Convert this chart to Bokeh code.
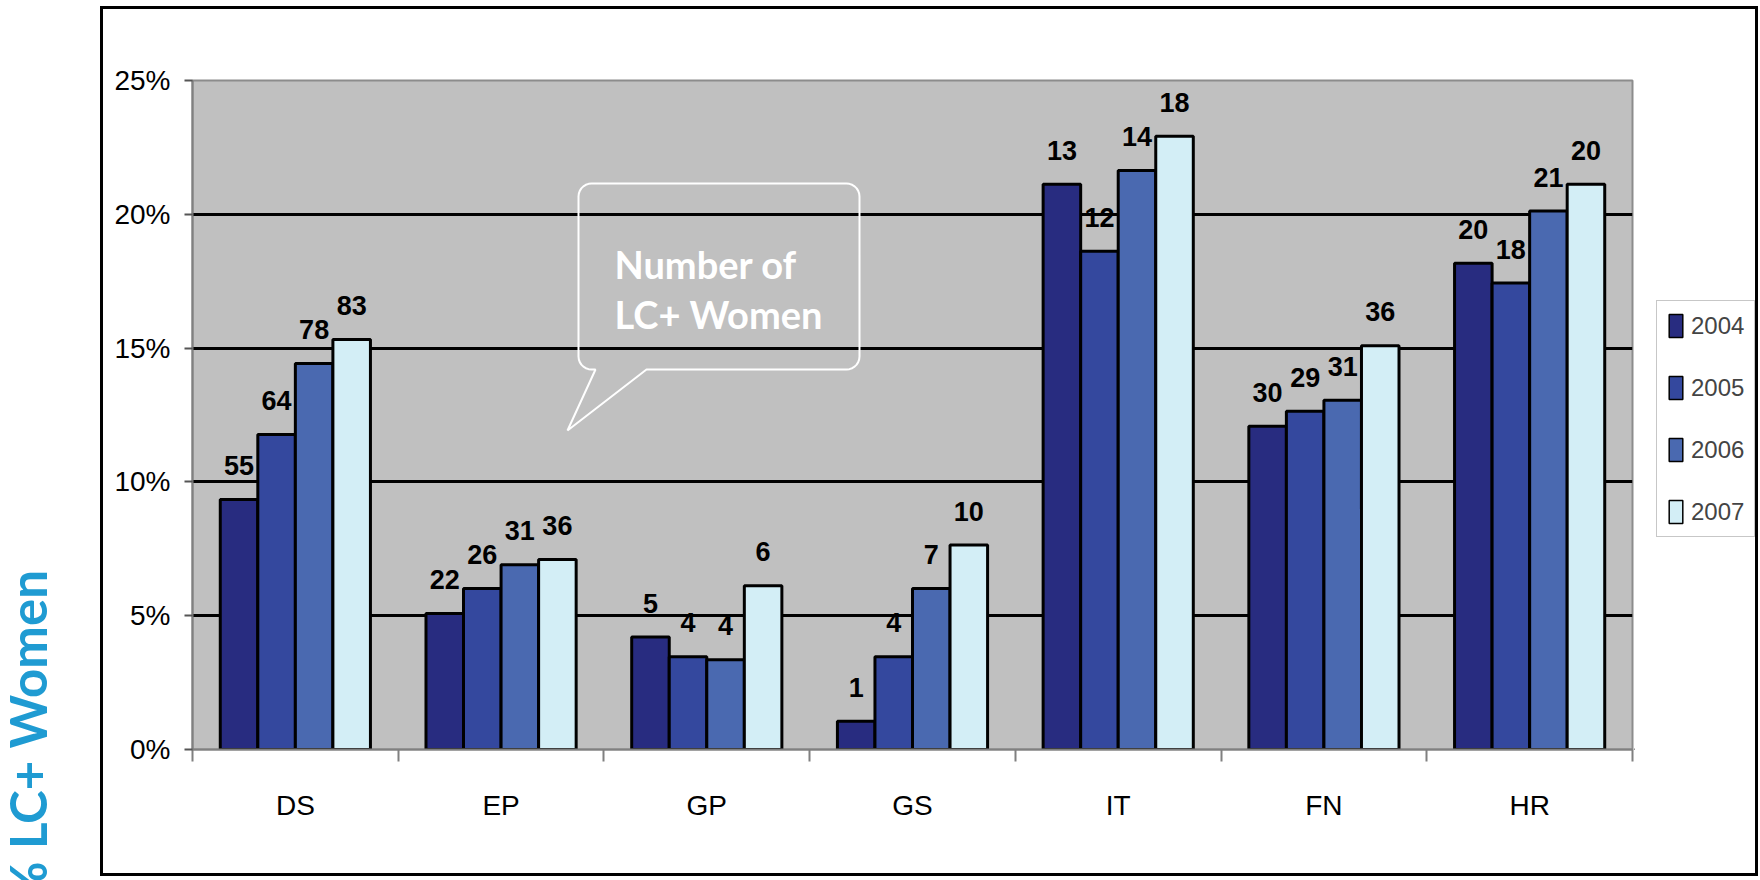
import numpy as np
from bokeh.plotting import figure
from bokeh.layouts import row, column
from bokeh.models import (Range1d, FixedTicker, LinearAxis, Legend, LegendItem,
                          Label, PolyAnnotation, ColumnDataSource)
from bokeh.core.properties import value
from bokeh.embed import file_html
from bokeh.resources import INLINE

# ---------------- data ----------------
categories = ["DS", "EP", "GP", "GS", "IT", "FN", "HR"]
years = ["2004", "2005", "2006", "2007"]
pct_2004 = [9.34, 5.08, 4.20, 1.06, 21.12, 12.08, 18.17]
pct_2005 = [11.77, 6.02, 3.47, 3.47, 18.62, 12.64, 17.43]
pct_2006 = [14.42, 6.90, 3.35, 6.02, 21.64, 13.05, 20.12]
pct_2007 = [15.32, 7.10, 6.12, 7.64, 22.92, 15.09, 21.12]
count_2004 = [55, 22, 5, 1, 13, 30, 20]
count_2005 = [64, 26, 4, 4, 12, 29, 18]
count_2006 = [78, 31, 4, 7, 14, 31, 21]
count_2007 = [83, 36, 6, 10, 18, 36, 20]
y_ticks = [0, 5, 10, 15, 20, 25]
y_tick_labels = ["0%", "5%", "10%", "15%", "20%", "25%"]
y_title = "% LC+ Women"
callout_lines = ["Number of", "LC+ Women"]

pcts = [pct_2004, pct_2005, pct_2006, pct_2007]
counts = [count_2004, count_2005, count_2006, count_2007]
colors = ["#282C80", "#34489E", "#4A69B0", "#D3EEF6"]

# ---------------- layout constants (canvas pixels) ----------------
FONT = "Liberation Sans"
H = 880
TW = 100                       # title strip width
BOX_L, BOX_R = 100, 1758       # bordered box
BOX_T, BOX_B = 6, 876
LINE = 3                       # border thickness
FL, FR, FT, FB = 192, 1632, 80, 749   # frame edges on the full canvas
IN_T, IN_B = BOX_T + LINE, BOX_B - LINE
IN_H = IN_B - IN_T
P_L = BOX_L + LINE
PW = FR + 2 - P_L
LG_L = P_L + PW
LW = BOX_R - LINE - LG_L
BAR_W = 0.1825

def blank(width, height, fill="white"):
    f = figure(width=width, height=height, output_backend="svg", toolbar_location=None,
               x_range=Range1d(0, width), y_range=Range1d(0, height),
               x_axis_type=None, y_axis_type=None, min_border=0,
               min_border_left=0, min_border_right=0, min_border_top=0, min_border_bottom=0)
    f.outline_line_color = None
    f.grid.visible = False
    f.background_fill_color = fill
    f.border_fill_color = fill
    return f

# ---------------- title strip ----------------
t = blank(TW, H)
t.add_layout(Label(x=27, y=H - 736, x_units="screen", y_units="screen",
                   text=y_title, angle=np.pi / 2, text_align="center",
                   text_baseline="alphabetic", text_font="Lato",
                   text_font_style="bold", text_font_size="51px",
                   text_color="#1F9BD2"))

# ---------------- main chart ----------------
p = figure(width=PW, height=IN_H, output_backend="svg", toolbar_location=None,
           x_range=Range1d(0, len(categories)), y_range=Range1d(0, 25),
           min_border_left=FL - P_L, min_border_right=2,
           min_border_top=FT - IN_T, min_border_bottom=IN_B - FB)
p.background_fill_color = "#C0C0C0"
p.border_fill_color = "white"
p.outline_line_color = "#8C8C8C"
p.outline_line_width = 2

p.xgrid.visible = False
p.ygrid.ticker = FixedTicker(ticks=y_ticks)
p.ygrid.grid_line_color = "black"
p.ygrid.grid_line_width = 3

p.yaxis.ticker = FixedTicker(ticks=y_ticks)
p.yaxis.major_label_overrides = {t_: l for t_, l in zip(y_ticks, y_tick_labels)}
p.yaxis.major_label_text_font = FONT
p.yaxis.major_label_text_font_size = "28px"
p.yaxis.major_label_text_color = "black"
p.yaxis.axis_line_color = "#808080"
p.yaxis.axis_line_width = 2
p.yaxis.major_tick_line_color = "#555555"
p.yaxis.major_tick_line_width = 2
p.yaxis.major_tick_out = 8
p.yaxis.major_tick_in = 0
p.yaxis.minor_tick_line_color = None
p.yaxis.major_label_standoff = 14

p.xaxis.ticker = FixedTicker(ticks=list(range(len(categories) + 1)))
p.xaxis.major_label_overrides = {i: "" for i in range(len(categories) + 1)}
p.xaxis.axis_line_color = "#808080"
p.xaxis.axis_line_width = 2
p.xaxis.major_tick_line_color = "#808080"
p.xaxis.major_tick_line_width = 2
p.xaxis.major_tick_out = 12
p.xaxis.major_tick_in = 0
p.xaxis.minor_tick_line_color = None
p.xaxis.major_label_text_font_size = "1px"

centers = [i + 0.5 for i in range(len(categories))]
xlab = LinearAxis(ticker=FixedTicker(ticks=centers),
                  major_label_overrides={c: n for c, n in zip(centers, categories)})
xlab.axis_line_color = None
xlab.major_tick_line_color = None
xlab.minor_tick_line_color = None
xlab.major_label_text_font = FONT
xlab.major_label_text_font_size = "28px"
xlab.major_label_text_color = "black"
xlab.major_label_standoff = 22
p.add_layout(xlab, "below")

for j, (vals, cnts, col) in enumerate(zip(pcts, counts, colors)):
    xs = [i + 0.5 + (j - 1.5) * BAR_W for i in range(len(categories))]
    src = ColumnDataSource(dict(x=xs, top=vals, txt=[str(c) for c in cnts]))
    p.vbar(x="x", top="top", bottom=0, width=BAR_W, source=src,
           fill_color=col, line_color="black", line_width=3)
    p.text(x="x", y="top", text="txt", source=src, y_offset=-34,
           text_align="center", text_baseline="alphabetic",
           text_font=value(FONT), text_font_style="bold",
           text_font_size="27px", text_color="black")

# callout bubble
def arc(cx, cy, r, a0, a1, n=8):
    tt = np.linspace(a0, a1, n)
    return list(cx + r * np.cos(tt)), list(cy + r * np.sin(tt))

L_, R_, T_, B_, rad = 578, 859, 183, 369, 13
px, py = [], []
for (cx, cy, a0, a1) in [(R_ - rad, T_ + rad, -np.pi / 2, 0),
                         (R_ - rad, B_ - rad, 0, np.pi / 2)]:
    ax, ay = arc(cx, cy, rad, a0, a1)
    px += ax; py += ay
px += [646, 567, 595]; py += [B_, 430, B_]
for (cx, cy, a0, a1) in [(L_ + rad, B_ - rad, np.pi / 2, np.pi),
                         (L_ + rad, T_ + rad, np.pi, 1.5 * np.pi)]:
    ax, ay = arc(cx, cy, rad, a0, a1)
    px += ax; py += ay
p.add_layout(PolyAnnotation(xs=[x - FL for x in px], ys=[FB - y for y in py],
                            xs_units="screen", ys_units="screen",
                            fill_color=None, fill_alpha=0,
                            line_color="white", line_alpha=1.0, line_width=2))
for line, base in zip(callout_lines, [263, 313]):
    p.add_layout(Label(x=614 - FL, y=FB - base, x_units="screen", y_units="screen",
                       text=line, text_align="left", text_baseline="alphabetic",
                       text_font="Lato", text_font_style="bold",
                       text_font_size="38px", text_color="white"))

# ---------------- legend strip (its frame aligns with the chart frame) ----------------
lg = blank(LW, IN_H)
items = []
for yr, col in zip(years, colors):
    r = lg.vbar(x=[-50.0], top=[0.0], bottom=[0.0], width=10,
                fill_color=col, line_color="black", line_width=1.5)
    items.append(LegendItem(label=yr, renderers=[r]))
legend = Legend(items=items, location=(1656 - LG_L, FB - 537),
                orientation="vertical",
                glyph_width=17, glyph_height=29, label_height=29,
                spacing=33, padding=10, margin=0, label_standoff=7,
                label_text_font=FONT, label_text_font_size="24px",
                border_line_color="#909090", border_line_width=1.5,
                background_fill_color="white", background_fill_alpha=1.0)
lg.add_layout(legend)

# ---------------- black border of the chart box (container background in the margins) ----------------
inner = row(p, lg, margin=(LINE, LINE, LINE, LINE),
            styles={"background-color": "white"})
box = column(inner, margin=(BOX_T, 0, H - BOX_B, 0),
             styles={"background-color": "black"})
layout = row(t, box)
open("out.html", "w").write(file_html(layout, INLINE))
